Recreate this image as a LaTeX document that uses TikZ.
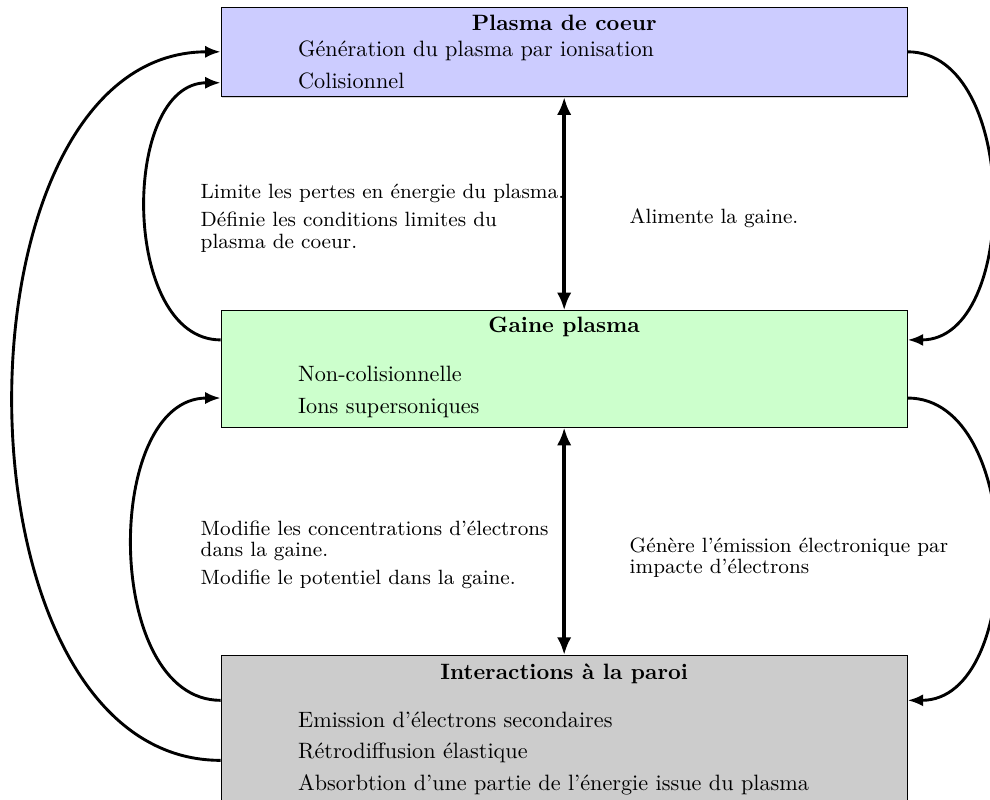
\documentclass[tikz,border=0pt]{standalone}
\usetikzlibrary{shadows}
\usetikzlibrary{calc}
\usetikzlibrary{arrows.meta}
\tikzset{
    bloc/.style={draw=black,fill=#1,minimum width=10.86cm,inner sep=0pt,
        drop shadow={shadow xshift=0.5pt,shadow yshift=-0.5pt,opacity=0.35}},
    titre/.style={anchor=base,inner sep=0pt,font=\bfseries},
    ligne/.style={anchor=base west,inner sep=0pt},
    etiquette/.style={anchor=north west,inner sep=0pt,align=left,font=\fontsize{9.3}{9.6}\selectfont},
    lien/.style={-{Latex[length=7pt,width=5.5pt]},line width=1.3pt},
    echange/.style={{Latex[length=8pt,width=6.5pt]}-{Latex[length=8pt,width=6.5pt]},line width=1.7pt},
}

\begin{document}
\begin{tikzpicture}
            \useasboundingbox (0,0) rectangle (15.67,-12.66);
            \node[bloc=blue!20,minimum height=1.42cm] (coeur) at (8.93,-0.82) {};
            \node[bloc=green!20,minimum height=1.84cm] (gaine) at (8.93,-5.84) {};
            \node[bloc=black!20,minimum height=2.37cm] (paroi) at (8.93,-11.56) {};
            \node[titre] (tcoeur) at ([yshift=-0.38cm]coeur.north) {Plasma de coeur};
            \node[ligne] (c1) at ([xshift=1.22cm,yshift=-0.79cm]coeur.north west) {Génération du plasma par ionisation};
            \node[ligne] (c2) at ([yshift=-0.51cm]c1.base west) {Colisionnel};
            \node[titre] (tgaine) at ([yshift=-0.35cm]gaine.north) {Gaine plasma};
            \node[ligne] (g1) at ([xshift=1.22cm,yshift=-1.12cm]gaine.north west) {Non-colisionnelle};
            \node[ligne] (g2) at ([yshift=-0.51cm]g1.base west) {Ions supersoniques};
            \node[titre] (tparoi) at ([yshift=-0.38cm]paroi.north) {Interactions à la paroi};
            \node[ligne] (p1) at ([xshift=1.22cm,yshift=-1.14cm]paroi.north west) {Emission d'électrons secondaires};
            \node[ligne] (p2) at ([yshift=-0.5cm]p1.base west) {Rétrodiffusion élastique};
            \node[ligne] (p3) at ([yshift=-0.51cm]p2.base west) {Absorbtion d'une partie de l'énergie issue du plasma};
            \draw[echange] (coeur.south) -- (gaine.north);
            \draw[echange] (gaine.south) -- (paroi.north);
            \draw[lien] ([yshift=0.46cm]gaine.west) to[out=180,in=180] ([yshift=-0.49cm]coeur.west);
            \draw[lien] ([yshift=-0.475cm]paroi.west) to[out=180,in=180] (coeur.west);
            \draw[lien] ([yshift=0.475cm]paroi.west) to[out=180,in=180] ([yshift=-0.46cm]gaine.west);
            \draw[lien] (coeur.east) to[out=0,in=0] ([yshift=0.46cm]gaine.east);
            \draw[lien] ([yshift=-0.46cm]gaine.east) to[out=0,in=0] ([yshift=0.475cm]paroi.east);
            \node[etiquette] (l1) at (3.17,-2.91) {Limite les pertes en énergie du plasma.\\[3pt] Définie les conditions limites du\\ plasma de coeur.};
            \node[etiquette,anchor=base west] (l2) at (9.96,-3.53) {Alimente la gaine.};
            \node[etiquette] (l3) at (3.17,-8.24) {Modifie les concentrations d'électrons\\ dans la gaine.\\[3pt] Modifie le potentiel dans la gaine.};
            \node[etiquette] (l4) at (9.96,-8.5) {Génère l'émission électronique par\\ impacte d'électrons};
        \end{tikzpicture}
\end{document}
